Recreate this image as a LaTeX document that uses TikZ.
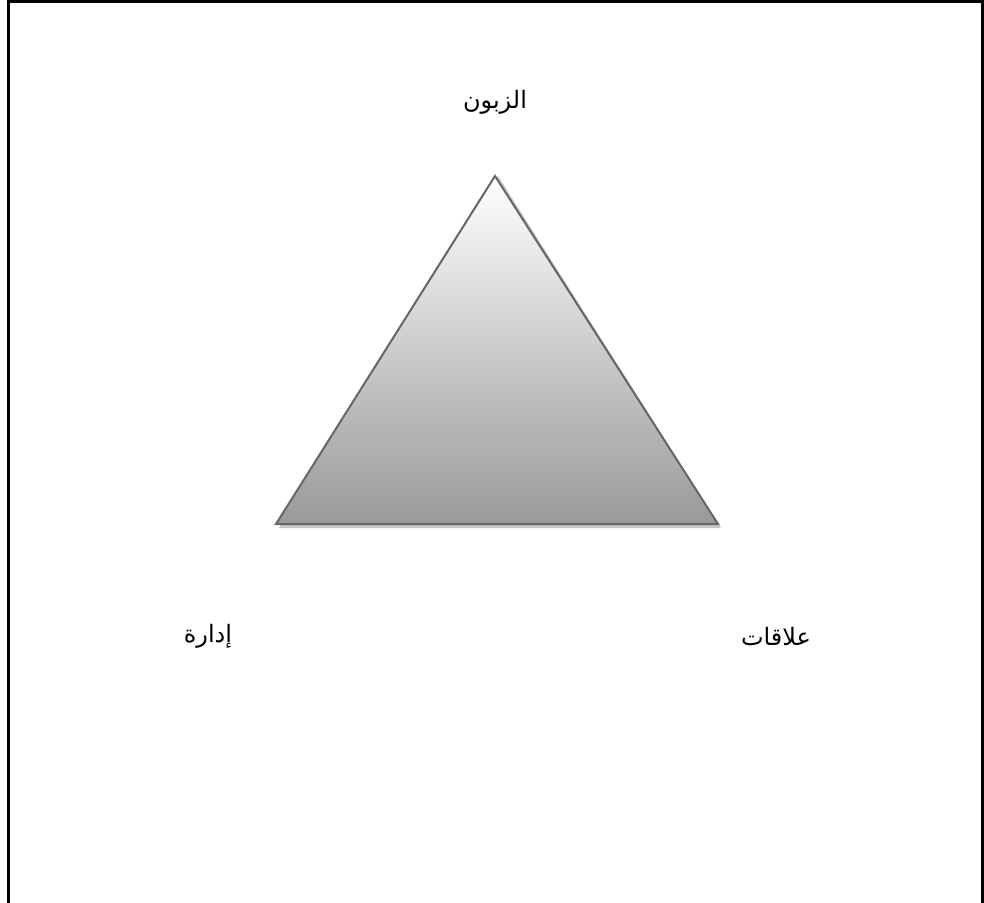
\documentclass[tikz,border=0pt]{standalone}
\usepackage{fontspec}
\newfontfamily\arabicfont[Script=Arabic]{DejaVu Sans}
\TeXXeTstate=1
\usetikzlibrary{positioning}

\begin{document}
\begin{tikzpicture}[x=0.5pt,y=-0.5pt,
  every node/.style={font=\arabicfont\fontsize{12}{14}\selectfont},
  pyr/.style={draw=black!60,line width=1pt,top color=white,bottom color=black!40}]
\useasboundingbox (0,0) rectangle (984,903);
\draw[line width=1.5pt] (8,903) -- (8,2) -- (982.5,2) -- (982.5,903);
% triangle
\coordinate (apex) at (495,176);
\coordinate (bl) at (276,524);
\coordinate (br) at (718,524);
\fill[black!22] ([shift={(3,4)}]bl) -- ([shift={(3,4)}]br) -- ([shift={(3,0)}]apex) -- cycle;
\draw[pyr] (apex) -- (br) -- (bl) -- cycle;
% labels
\node (customer) at (495,102) {\beginR الزبون\endR};
\node (manage) at (208,636) {\beginR إدارة\endR};
\node (relations) at (776,636) {\beginR علاقات\endR};
\end{tikzpicture}
\end{document}
